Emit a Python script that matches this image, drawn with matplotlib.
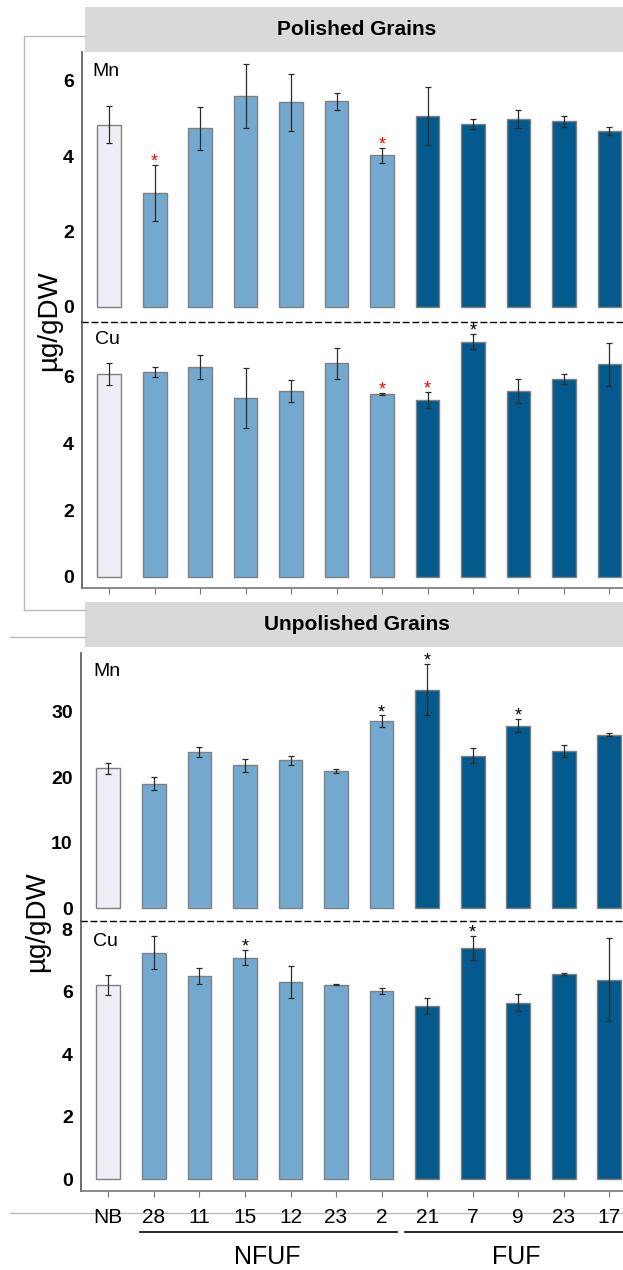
import numpy as np
import matplotlib.pyplot as plt
from matplotlib.lines import Line2D
from matplotlib.patches import Rectangle

plt.rcParams['font.family'] = ['Liberation Sans', 'DejaVu Sans']

# --- dados ---
genotypes = ['NB', '28', '11', '15', '12', '23', '2', '21', '7', '9', '23', '17']
groups = ['NB', 'NFUF', 'NFUF', 'NFUF', 'NFUF', 'NFUF', 'NFUF',
          'FUF', 'FUF', 'FUF', 'FUF', 'FUF']

pol_mn = [4.84, 3.03, 4.74, 5.60, 5.43, 5.46, 4.03, 5.07, 4.85, 4.99, 4.93, 4.67]
pol_mn_err = [0.50, 0.74, 0.57, 0.85, 0.76, 0.23, 0.20, 0.78, 0.14, 0.24, 0.15, 0.11]
pol_cu = [6.07, 6.14, 6.30, 5.35, 5.57, 6.40, 5.48, 5.30, 7.05, 5.57, 5.93, 6.37]
pol_cu_err = [0.33, 0.14, 0.36, 0.90, 0.32, 0.46, 0.03, 0.25, 0.23, 0.36, 0.16, 0.65]

unp_mn = [21.4, 19.0, 23.8, 21.8, 22.6, 21.0, 28.6, 33.4, 23.3, 27.9, 24.0, 26.5]
unp_mn_err = [0.85, 1.0, 0.75, 0.95, 0.7, 0.3, 0.85, 3.9, 1.1, 1.0, 0.9, 0.2]
unp_cu = [6.21, 7.25, 6.50, 7.09, 6.31, 6.22, 6.02, 5.54, 7.40, 5.65, 6.56, 6.38]
unp_cu_err = [0.32, 0.52, 0.25, 0.23, 0.51, 0.02, 0.09, 0.25, 0.39, 0.26, 0.03, 1.33]

# asteriscos de significancia (indice -> cor)
pol_mn_stars = {1: 'red', 6: 'red'}
pol_cu_stars = {6: 'red', 7: 'red', 8: 'black'}
unp_mn_stars = {6: 'black', 7: 'black', 9: 'black'}
unp_cu_stars = {3: 'black', 8: 'black'}

GROUP_COLORS = {'NB': '#EFEDF5', 'NFUF': '#74A9CF', 'FUF': '#045A8D'}
bar_colors = [GROUP_COLORS[g] for g in groups]

# --- figura (coordenadas em pixels da imagem 623x1270) ---
W, H = 623, 1270
fig = plt.figure(figsize=(W / 100, H / 100), dpi=100)


def fx(px):
    return px / W


def fy(py):
    return 1 - py / H


def add_ax(top, bottom, left):
    return fig.add_axes([fx(left), fy(bottom), 1 - fx(left), (bottom - top) / H])


def draw_panel(ax, vals, errs, stars, ylim, yticks, dashed_bottom):
    x = np.arange(len(vals))
    ax.bar(x, vals, width=0.52, color=bar_colors, edgecolor='#808080',
           linewidth=1.0, zorder=2)
    ax.errorbar(x, vals, yerr=errs, fmt='none', ecolor='#2b2b2b',
                elinewidth=0.9, capsize=2, capthick=0.9, zorder=3)
    for i, c in stars.items():
        ax.annotate('*', (i, vals[i] + errs[i]), xytext=(0, -4),
                    textcoords='offset points', ha='center', va='bottom',
                    color=c, fontsize=13)
    ax.set_xlim(-0.6, 11.3)
    ax.set_ylim(*ylim)
    ax.set_yticks(yticks)
    for s in ['top', 'right']:
        ax.spines[s].set_visible(False)
    ax.spines['left'].set_color('#555555')
    ax.spines['left'].set_linewidth(1.2)
    if dashed_bottom:
        ax.spines['bottom'].set_color('black')
        ax.spines['bottom'].set_linewidth(1.0)
        ax.spines['bottom'].set_linestyle((0, (4, 3)))
        ax.set_xticks([])
    else:
        ax.spines['bottom'].set_color('#777777')
        ax.spines['bottom'].set_linewidth(1.2)
        ax.set_xticks(x)
        ax.tick_params(axis='x', length=4, color='#777777', labelbottom=False)
    ax.tick_params(axis='y', length=0, pad=6, labelsize=14)
    for t in ax.get_yticklabels():
        t.set_fontweight('bold')
    ax.set_facecolor('none')


# --- Polished ---
ax1 = add_ax(52, 321.7, 82)
draw_panel(ax1, pol_mn, pol_mn_err, pol_mn_stars, (-0.4, 6.77), [0, 2, 4, 6], True)
ax2 = add_ax(321.7, 588, 82)
draw_panel(ax2, pol_cu, pol_cu_err, pol_cu_stars, (-0.34, 7.65), [0, 2, 4, 6], False)

# --- Unpolished ---
ax3 = add_ax(653, 920.7, 81)
draw_panel(ax3, unp_mn, unp_mn_err, unp_mn_stars, (-1.94, 39.0), [0, 10, 20, 30], True)
ax4 = add_ax(920.7, 1191, 81)
draw_panel(ax4, unp_cu, unp_cu_err, unp_cu_stars, (-0.38, 8.27), [0, 2, 4, 6, 8], False)

# rotulos do eixo x (apenas no ultimo painel)
ax4.tick_params(axis='x', labelbottom=True, labelsize=15, pad=8)
ax4.set_xticklabels(genotypes)

# elemento / rotulos dos paineis
for txt, px, py in [('Mn', 92, 72), ('Cu', 95, 339), ('Mn', 93, 672), ('Cu', 93, 942)]:
    fig.text(fx(px), fy(py), txt, fontsize=14, ha='left', va='center')

# cabecalhos cinza
for title, top, bot in [('Polished Grains', 7, 52), ('Unpolished Grains', 602, 647)]:
    fig.patches.append(Rectangle((fx(85), fy(bot)), 1 - fx(85), (bot - top) / H,
                                 transform=fig.transFigure, facecolor='#D9D9D9',
                                 edgecolor='none', zorder=0))
    fig.text(fx(357), fy((top + bot) / 2), title, fontsize=15, fontweight='bold',
             ha='center', va='center')

# rotulo do eixo y
fig.text(fx(49), fy(321), 'µg/gDW', rotation=90, fontsize=20, ha='center', va='center')
fig.text(fx(37), fy(922), 'µg/gDW', rotation=90, fontsize=20, ha='center', va='center')

# linhas finas da montagem da figura
frame = dict(color='#BBBBBB', linewidth=1.0, transform=fig.transFigure)
fig.add_artist(Line2D([fx(24), fx(85)], [fy(36), fy(36)], **frame))
fig.add_artist(Line2D([fx(24), fx(24)], [fy(36), fy(610)], **frame))
fig.add_artist(Line2D([fx(24), fx(85)], [fy(610), fy(610)], **frame))
fig.add_artist(Line2D([fx(10), fx(85)], [fy(637), fy(637)], **frame))
fig.add_artist(Line2D([fx(10), 1], [fy(1213), fy(1213)], zorder=0, **frame))

# chaves dos grupos
fig.add_artist(Line2D([fx(140), fx(397)], [fy(1232), fy(1232)], color='black',
                      linewidth=1.2, transform=fig.transFigure))
fig.add_artist(Line2D([fx(405), 1], [fy(1232), fy(1232)], color='black',
                      linewidth=1.2, transform=fig.transFigure))
fig.text(fx(267), fy(1257), 'NFUF', fontsize=18, ha='center', va='center')
fig.text(fx(516), fy(1257), 'FUF', fontsize=18, ha='center', va='center')

fig.savefig('out.png', dpi=100, facecolor='white')
